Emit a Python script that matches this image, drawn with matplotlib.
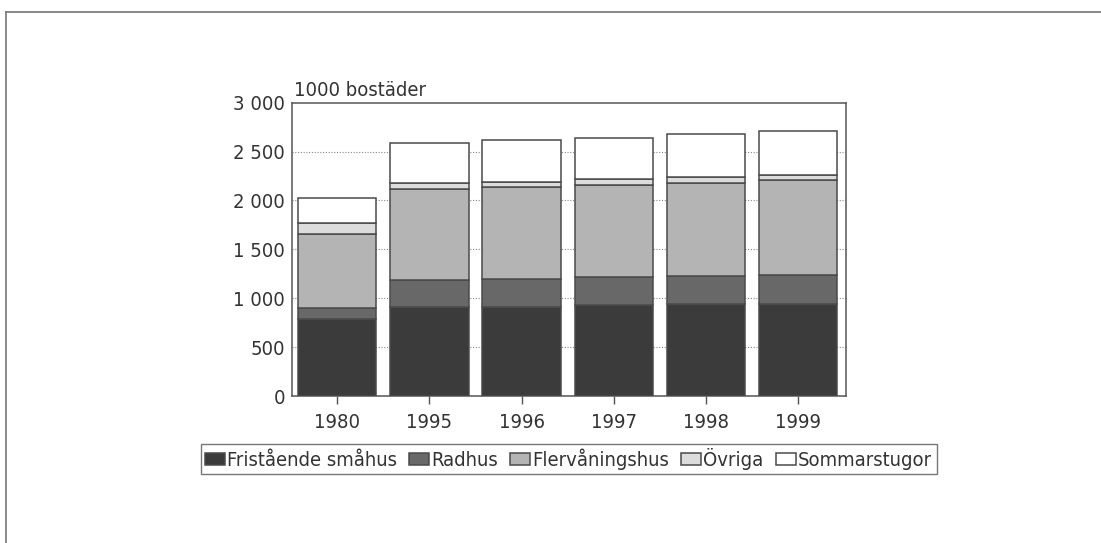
import matplotlib
matplotlib.use("Agg")
import matplotlib.pyplot as plt
from matplotlib.ticker import FuncFormatter
from matplotlib.lines import Line2D
import numpy as np

plt.rcParams['font.family'] = ['DejaVu Sans']
plt.rcParams['font.stretch'] = 'condensed'

years = ["1980", "1995", "1996", "1997", "1998", "1999"]
series_names = ["Fristående småhus", "Radhus", "Flervåningshus", "Övriga", "Sommarstugor"]
fristaende = [783, 910, 915, 926, 940, 938]
radhus = [119, 280, 285, 288, 284, 303]
flervaningshus = [753, 923, 939, 943, 956, 967]
ovriga = [118, 61, 51, 61, 61, 57]
sommarstugor = [248, 417, 424, 424, 434, 444]
yticks = [0, 500, 1000, 1500, 2000, 2500, 3000]

colors = ["#3b3b3b", "#686868", "#b4b4b4", "#dcdcdc", "#ffffff"]
text_color = "#333333"
edge = "#4a4a4a"
fs = 14.5

fig = plt.figure(figsize=(11.01, 5.43), dpi=100)
ax = fig.add_axes([0.2652, 0.2707, 0.5032, 0.5402])

x = np.arange(len(years))
bottom = np.zeros(len(years))
handles = []
for name, vals, c in zip(series_names, [fristaende, radhus, flervaningshus, ovriga, sommarstugor], colors):
    vals = np.array(vals, dtype=float)
    b = ax.bar(x, vals, bottom=bottom, width=0.85, color=c, edgecolor=edge, linewidth=1.1, label=name, zorder=3)
    handles.append(b)
    bottom += vals

ax.set_xlim(-0.49, 5.52)
ax.set_ylim(0, 3000)
ax.set_yticks(yticks)
ax.yaxis.set_major_formatter(FuncFormatter(lambda v, p: f"{int(v):,}".replace(",", " ")))
ax.set_xticks(x)
ax.set_xticklabels(years)
ax.tick_params(axis='y', length=0, pad=5, labelsize=fs, labelcolor=text_color)
ax.tick_params(axis='x', length=6, width=1, color="#555555", pad=6, labelsize=fs, labelcolor=text_color)
for gy in yticks[1:-1]:
    ax.axhline(gy, color="#888888", linestyle=(0, (1, 1.5)), linewidth=0.8, zorder=1)
for s in ax.spines.values():
    s.set_color("#555555")
    s.set_linewidth(1.1)

ax.text(0.003, 1.01, "1000 bostäder", transform=ax.transAxes, fontsize=fs, color=text_color, ha='left', va='bottom')

leg = fig.legend(handles=handles, labels=series_names, loc='center', bbox_to_anchor=(0.5164, 0.1547), ncol=5,
                 fontsize=fs, frameon=True, fancybox=False, edgecolor="#555555", handlelength=1.0,
                 handleheight=0.55, handletextpad=0.1, columnspacing=0.6, borderpad=0.22, borderaxespad=0)
leg.get_frame().set_linewidth(1.0)
for t in leg.get_texts():
    t.set_color(text_color)

# outer frame
fig.add_artist(Line2D([6/1101, 6/1101], [0, 1 - 12/543], transform=fig.transFigure, color="#777777", linewidth=1.2))
fig.add_artist(Line2D([6/1101, 1], [1 - 12/543, 1 - 12/543], transform=fig.transFigure, color="#777777", linewidth=1.2))

fig.savefig("out.png", dpi=100)
